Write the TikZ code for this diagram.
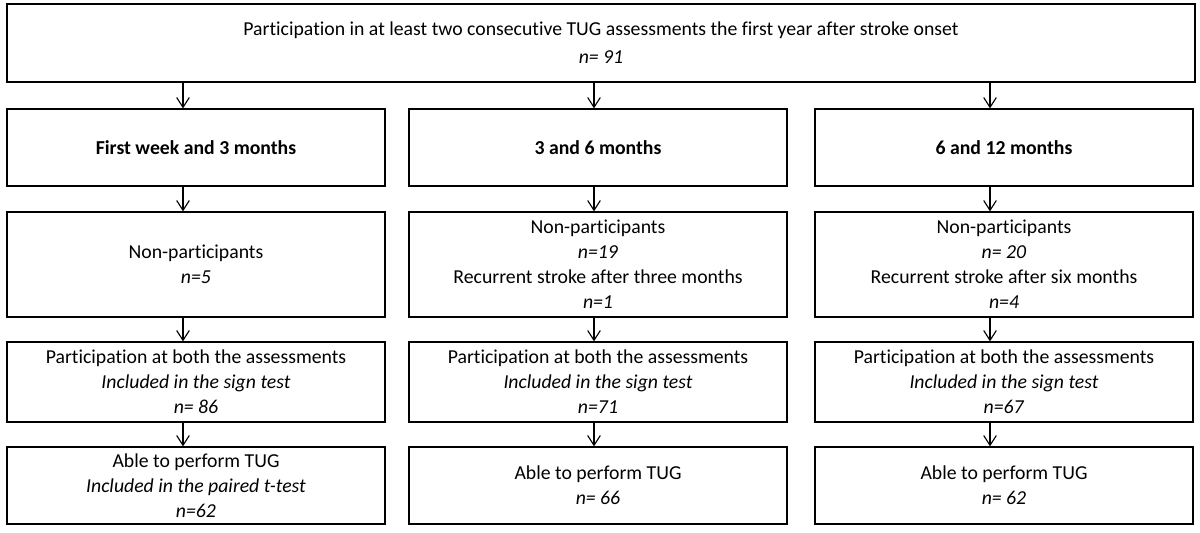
\documentclass[tikz,border=0pt]{standalone}
\usepackage{fontspec}
\setsansfont{Carlito}[Ligatures=CommonOff]
\usepackage{tikz}
\usetikzlibrary{positioning, arrows.meta}

\tikzset{
  stagebox/.style={draw, line width=0.9pt, minimum width=9.45cm, align=center, inner sep=0pt},
  flow/.style={-{Straight Barb[length=7pt,width=9pt]}, line width=0.8pt},
}

\begin{document}
\begin{tikzpicture}\sffamily
  \fontsize{14.05}{17.8}\selectfont
  \useasboundingbox (0,0) rectangle (30,-13.3);
  \coordinate (colA) at (4.575,0);
  \coordinate (colB) at (14.85,0);
  \coordinate (colC) at (24.75,0);

  \node[stagebox, minimum width=29.7cm, minimum height=1.95cm] (start) at (15.025,-1.075)
      {Participation in at least two consecutive TUG assessments the first year after stroke onset\\[2.1pt]
       \textit{n= 91}};

  \node[stagebox, minimum height=1.925cm] (weekA) at (4.9,-3.6875) {\textbf{First week and 3 months}};
  \node[stagebox, minimum height=1.925cm] (weekB) at (14.95,-3.6875) {\textbf{3 and 6 months}};
  \node[stagebox, minimum height=1.925cm] (weekC) at (25.1,-3.6875) {\textbf{6 and 12 months}};

  \node[stagebox, minimum height=2.625cm] (nonA) at (4.9,-6.6125)
      {Non-participants\\ \textit{n=5}};
  \node[stagebox, minimum height=2.625cm] (nonB) at (14.95,-6.6125)
      {Non-participants\\ \textit{n=19}\\ Recurrent stroke after three months\\ \textit{n=1}};
  \node[stagebox, minimum height=2.625cm] (nonC) at (25.1,-6.6125)
      {Non-participants\\ \textit{n= 20}\\ Recurrent stroke after six months\\ \textit{n=4}};

  \node[stagebox, minimum height=2cm] (bothA) at (4.9,-9.55)
      {Participation at both the assessments\\ \textit{Included in the sign test}\\ \textit{n= 86}};
  \node[stagebox, minimum height=2cm] (bothB) at (14.95,-9.55)
      {Participation at both the assessments\\ \textit{Included in the sign test}\\ \textit{n=71}};
  \node[stagebox, minimum height=2cm] (bothC) at (25.1,-9.55)
      {Participation at both the assessments\\ \textit{Included in the sign test}\\ \textit{n=67}};

  \node[stagebox, minimum height=1.925cm] (ableA) at (4.9,-12.1375)
      {Able to perform TUG\\ \textit{Included in the paired t-test}\\ \textit{n=62}};
  \node[stagebox, minimum height=1.925cm] (ableB) at (14.95,-12.1375)
      {Able to perform TUG\\ \textit{n= 66}};
  \node[stagebox, minimum height=1.925cm] (ableC) at (25.1,-12.1375)
      {Able to perform TUG\\ \textit{n= 62}};

  % arrows
  \draw[flow] (start.south -| colA) -- (weekA.north -| colA);
  \draw[flow] (start.south -| colB) -- (weekB.north -| colB);
  \draw[flow] (start.south -| colC) -- (weekC.north -| colC);

  \draw[flow] (weekA.south -| colA) -- (nonA.north -| colA);
  \draw[flow] (weekB.south -| colB) -- (nonB.north -| colB);
  \draw[flow] (weekC.south -| colC) -- (nonC.north -| colC);

  \draw[flow] (nonA.south -| colA) -- (bothA.north -| colA);
  \draw[flow] (nonB.south -| colB) -- (bothB.north -| colB);
  \draw[flow] (nonC.south -| colC) -- (bothC.north -| colC);

  \draw[flow] (bothA.south -| colA) -- (ableA.north -| colA);
  \draw[flow] (bothB.south -| colB) -- (ableB.north -| colB);
  \draw[flow] (bothC.south -| colC) -- (ableC.north -| colC);
\end{tikzpicture}
\end{document}
